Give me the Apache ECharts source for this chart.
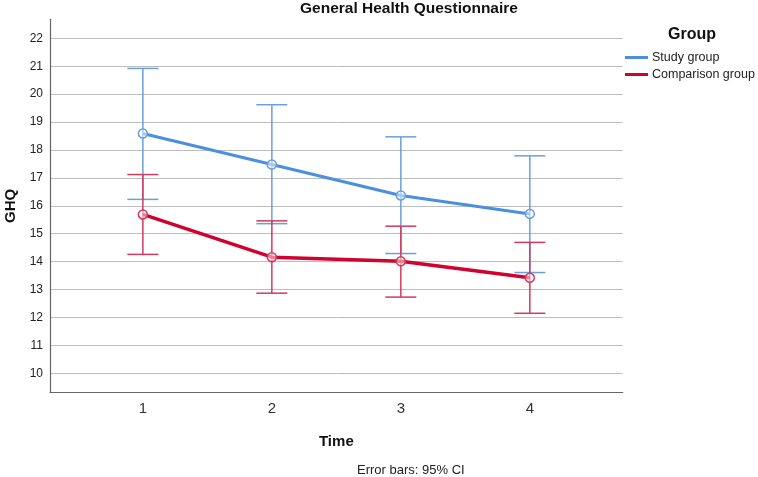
<!DOCTYPE html>
<html>
<head>
<meta charset="utf-8">
<script src="https://cdn.jsdelivr.net/npm/echarts@6/dist/echarts.min.js"></script>
<style>html,body{margin:0;padding:0;background:#fff}#c{width:758px;height:477px}</style>
</head>
<body>
<div id="c"></div>
<script>
var times = [1, 2, 3, 4];
var yTicks = [10, 11, 12, 13, 14, 15, 16, 17, 18, 19, 20, 21, 22];
var studyMean = [18.59, 17.48, 16.37, 15.71];
var studyLow = [16.23, 15.36, 14.29, 13.61];
var studyHigh = [20.92, 19.62, 18.47, 17.79];
var compMean = [15.69, 14.16, 14.01, 13.42];
var compLow = [14.26, 12.87, 12.73, 12.15];
var compHigh = [17.12, 15.46, 15.27, 14.69];

var FONT = '"Liberation Sans", Arial, sans-serif';
var BLUE = '#4a8fe0';
var BLUE_EB = '#6b9fdc';
var RED = '#d0022e';
var RED_EB = '#d23a5e';

function errData(low, high) {
  return times.map(function (t, i) { return [t, low[i], high[i]]; });
}
function meanData(m) {
  return times.map(function (t, i) { return [t, m[i]]; });
}
function errRender(color) {
  return function (params, api) {
    var x = api.value(0);
    var lo = api.coord([x, api.value(1)]);
    var hi = api.coord([x, api.value(2)]);
    var hw = 15.5;
    var style = { stroke: color, lineWidth: 1.5, fill: null };
    return {
      type: 'group',
      children: [
        { type: 'line', shape: { x1: lo[0], y1: lo[1], x2: hi[0], y2: hi[1] }, style: style },
        { type: 'line', shape: { x1: hi[0] - hw, y1: hi[1], x2: hi[0] + hw, y2: hi[1] }, style: style },
        { type: 'line', shape: { x1: lo[0] - hw, y1: lo[1], x2: lo[0] + hw, y2: lo[1] }, style: style }
      ]
    };
  };
}

var chart = echarts.init(document.getElementById('c'), null, { renderer: 'canvas' });
chart.setOption({
  animation: false,
  backgroundColor: '#fff',
  title: [
    { text: 'General Health Questionnaire', left: 300, top: 1, padding: 0,
      textStyle: { fontFamily: FONT, fontSize: 15.5, fontWeight: 'bold', color: '#111' } },
    { text: 'Group', left: 668, top: 27, padding: 0,
      textStyle: { fontFamily: FONT, fontSize: 16, fontWeight: 'bold', color: '#111' } },
    { text: 'Error bars: 95% CI', left: 357, top: 464, padding: 0,
      textStyle: { fontFamily: FONT, fontSize: 13, fontWeight: 'normal', color: '#222' } }
  ],
  legend: {
    orient: 'vertical', left: 625, top: 51, itemGap: 4, padding: 0,
    itemWidth: 23, itemHeight: 3, icon: 'rect',
    data: [
      { name: 'Study group', itemStyle: { color: BLUE, borderWidth: 0 } },
      { name: 'Comparison group', itemStyle: { color: RED, borderWidth: 0 } }
    ],
    textStyle: { fontFamily: FONT, fontSize: 12.5, color: '#222', padding: [0, 0, 0, -1] }
  },
  grid: { left: 50, top: 19.3, right: 135.3, bottom: 84.7, containLabel: false, outerBoundsMode: 'none' },
  xAxis: {
    type: 'value', min: 0.28, max: 4.72,
    name: 'Time', nameLocation: 'middle', nameGap: 42,
    nameTextStyle: { fontFamily: FONT, fontSize: 15, fontWeight: 'bold', color: '#111' },
    axisLine: { show: true, lineStyle: { color: '#666', width: 1.2 } },
    axisTick: { show: false, customValues: times },
    splitLine: { show: false },
    axisLabel: { customValues: times, fontFamily: FONT, fontSize: 15, color: '#333', margin: 9 }
  },
  yAxis: {
    type: 'value', min: 9.32, max: 22.68,
    name: 'GHQ', nameLocation: 'middle', nameGap: 28, nameRotate: 90,
    nameTextStyle: { fontFamily: FONT, fontSize: 15, fontWeight: 'bold', color: '#111' },
    axisLine: { show: true, lineStyle: { color: '#666', width: 1.2 } },
    axisTick: { show: false, customValues: yTicks },
    splitLine: { show: true, lineStyle: { color: '#bdbdbd', width: 1 } },
    axisLabel: { customValues: yTicks, fontFamily: FONT, fontSize: 12, color: '#222', margin: 7 }
  },
  series: [
    { type: 'custom', name: 'StudyEB', renderItem: errRender(BLUE_EB), data: errData(studyLow, studyHigh), encode: { x: 0, y: [1, 2] }, z: 2, silent: true },
    { type: 'custom', name: 'CompEB', renderItem: errRender(RED_EB), data: errData(compLow, compHigh), encode: { x: 0, y: [1, 2] }, z: 2, silent: true },
    { type: 'line', name: 'Study group', data: meanData(studyMean), color: BLUE,
      lineStyle: { color: BLUE, width: 3 }, symbol: 'circle', symbolSize: 9,
      itemStyle: { color: 'rgba(255,255,255,0.5)', borderColor: BLUE_EB, borderWidth: 1.5 }, z: 3 },
    { type: 'line', name: 'Comparison group', data: meanData(compMean), color: RED,
      lineStyle: { color: RED, width: 3.5 }, symbol: 'circle', symbolSize: 9,
      itemStyle: { color: 'rgba(255,255,255,0.5)', borderColor: RED_EB, borderWidth: 1.5 }, z: 3 }
  ]
});
</script>
</body>
</html>
